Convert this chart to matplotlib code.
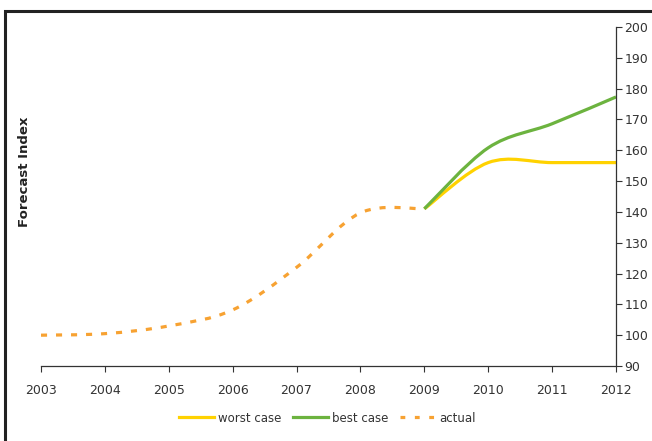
import matplotlib
matplotlib.use("Agg")
import matplotlib.pyplot as plt
import numpy as np
from matplotlib.path import Path
from matplotlib.patches import PathPatch, Rectangle
from matplotlib.lines import Line2D

years_actual = [2003, 2004, 2005, 2006, 2007, 2008, 2009]
actual = [100, 100.5, 103, 108.2, 122, 139.7, 141]
years_fc = [2009, 2010, 2011, 2012]
worst_case = [141, 156, 156, 156]
best_case = [141, 160.8, 168.6, 177.3]
x_ticks = list(range(2003, 2013))
y_ticks = list(range(90, 201, 10))

C_WORST = "#FFD200"
C_BEST = "#6CB33F"
C_ACT = "#F7A232"


def smooth_path(xs, ys):
    pts = np.column_stack([xs, ys]).astype(float)
    n = len(pts)
    verts = [pts[0]]
    codes = [Path.MOVETO]
    for i in range(n - 1):
        p0 = pts[i - 1] if i > 0 else pts[i]
        p1 = pts[i]
        p2 = pts[i + 1]
        p3 = pts[i + 2] if i + 2 < n else pts[i + 1]
        c1 = p1 + (p2 - p0) / 6.0
        c2 = p2 - (p3 - p1) / 6.0
        verts += [c1, c2, p2]
        codes += [Path.CURVE4] * 3
    return Path(verts, codes)


fig = plt.figure(figsize=(6.52, 4.41), dpi=100)
ax = fig.add_axes([41 / 652, 1 - 366 / 441, (616 - 41) / 652, (366 - 27) / 441])

ax.add_patch(PathPatch(smooth_path(years_fc, worst_case), fill=False,
                       edgecolor=C_WORST, lw=2.3, capstyle="butt"))
ax.add_patch(PathPatch(smooth_path(years_fc, best_case), fill=False,
                       edgecolor=C_BEST, lw=2.3, capstyle="butt"))
ax.add_patch(PathPatch(smooth_path(years_actual, actual), fill=False,
                       edgecolor=C_ACT, lw=2.3, linestyle=(0, (1.9, 2.8)), capstyle="butt"))

ax.set_xlim(2003, 2012)
ax.set_ylim(90, 200)
ax.set_xticks(x_ticks)
ax.set_xticklabels([str(t) for t in x_ticks], fontsize=9, color="#333333")
ax.set_yticks(y_ticks)
ax.set_yticklabels([str(t) for t in y_ticks], fontsize=9, color="#333333")
ax.yaxis.tick_right()
ax.tick_params(axis="y", direction="out", length=4, width=0.8, pad=2, colors="#333333")
ax.tick_params(axis="x", direction="out", length=4, width=0.8, pad=9, colors="#333333")
for s in ["top", "left"]:
    ax.spines[s].set_visible(False)
ax.spines["right"].set_color("#333333")
ax.spines["bottom"].set_color("#333333")
ax.spines["right"].set_linewidth(0.9)
ax.spines["bottom"].set_linewidth(0.9)

fig.text(25 / 652, 1 - 172 / 441, "Forecast Index", rotation=90, fontsize=9.5,
         fontweight="bold", ha="center", va="center", color="#222222")

handles = [
    Line2D([], [], color=C_WORST, lw=2.3),
    Line2D([], [], color=C_BEST, lw=2.3),
    Line2D([], [], color=C_ACT, lw=2.3, linestyle=(0, (1.5, 3.0))),
]
fig.legend(handles, ["worst case", "best case", "actual"], loc="center",
           bbox_to_anchor=(327 / 652, 1 - 418 / 441), ncol=3, frameon=False,
           fontsize=8.5, handlelength=3.0, handletextpad=0.3, columnspacing=1.0,
           labelcolor="#333333")

fig.add_artist(Rectangle((5 / 652, -0.1), 1.2, 1 - 11 / 441 + 0.1,
                         transform=fig.transFigure, fill=False,
                         edgecolor="#222222", lw=2.2))

fig.savefig("out.png", dpi=100)
